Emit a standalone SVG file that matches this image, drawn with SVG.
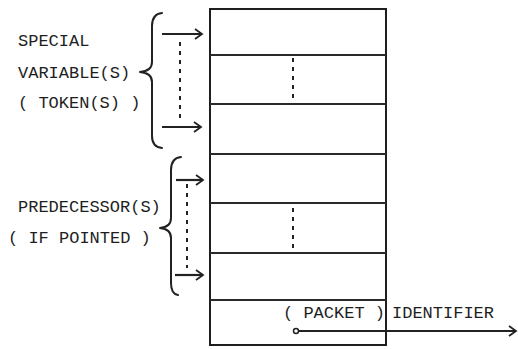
<svg xmlns="http://www.w3.org/2000/svg" width="518" height="349" viewBox="0 0 518 349">
<defs>
<style>
.lbl{font-family:"Liberation Mono","DejaVu Sans Mono",monospace;font-size:17px;fill:#1e1e1e}
.box{fill:#fff;stroke:#1e1e1e;stroke-width:2}
.row{stroke:#2a2a2a;stroke-width:2}
.brace{fill:none;stroke:#222;stroke-width:2;stroke-linecap:round;stroke-linejoin:round}
.arr{stroke:#222;stroke-width:2.2;fill:none}
.dots{stroke:#222;stroke-width:2;stroke-dasharray:4 5}
</style>
<marker id="head" markerWidth="10" markerHeight="12" refX="8" refY="6" orient="auto" markerUnits="userSpaceOnUse">
<path d="M1,1 L8,6 L1,11" fill="none" stroke="#222" stroke-width="1.8"/>
</marker>
</defs>
<rect width="518" height="349" fill="#fff"/>
<g id="packet">
<rect class="box" x="210" y="9" width="176" height="336"/>
<line class="row" x1="210" y1="55" x2="386" y2="55"/>
<line class="row" x1="210" y1="104" x2="386" y2="104"/>
<line class="row" x1="210" y1="154" x2="386" y2="154"/>
<line class="row" x1="210" y1="203" x2="386" y2="203"/>
<line class="row" x1="210" y1="253" x2="386" y2="253"/>
<line class="row" x1="210" y1="300" x2="386" y2="300"/>
<line class="dots" x1="293" y1="58" x2="293" y2="100"/>
<line class="dots" x1="293" y1="208" x2="293" y2="250"/>
<text class="lbl" x="283" y="318">( PACKET )</text>
</g>
<g id="special">
<text class="lbl" x="18" y="46">SPECIAL</text>
<text class="lbl" x="18" y="78">VARIABLE(S)</text>
<text class="lbl" x="18" y="108">( TOKEN(S) )</text>
<path class="brace" d="M162,13 Q152,14 152,26 L152,62 Q152,71 140,72 Q152,73 152,82 L152,136 Q152,147 162,148"/>
</g>
<g id="predecessor">
<text class="lbl" x="18" y="212">PREDECESSOR(S)</text>
<text class="lbl" x="8" y="243">( IF POINTED )</text>
<path class="brace" d="M181,157 Q171,158 171,170 L171,218 Q171,227 160,228 Q171,229 171,238 L171,283 Q171,294 178,295"/>
</g>
<g id="identifier">
<text class="lbl" x="392" y="318">IDENTIFIER</text>
</g>
<g id="connectors">
<line class="arr" x1="162" y1="34" x2="202" y2="34" marker-end="url(#head)"/>
<line class="arr" x1="162" y1="127" x2="201" y2="127" marker-end="url(#head)"/>
<line class="dots" x1="180" y1="42" x2="180" y2="122"/>
<line class="arr" x1="176" y1="180" x2="203" y2="180" marker-end="url(#head)"/>
<line class="arr" x1="175" y1="275" x2="203" y2="275" marker-end="url(#head)"/>
<line class="dots" x1="187" y1="184" x2="187" y2="268"/>
<circle cx="296" cy="331" r="2.5" fill="#fff" stroke="#222" stroke-width="1.5"/>
<line class="arr" x1="298" y1="331" x2="516" y2="331" marker-end="url(#head)"/>
</g>
</svg>
